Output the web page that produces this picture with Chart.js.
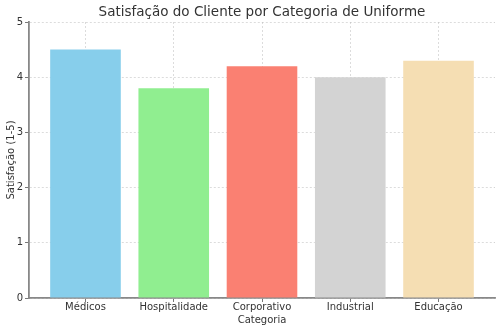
<!DOCTYPE html>
<html><head><meta charset="utf-8">
<script src="https://cdn.jsdelivr.net/npm/chart.js@4/dist/chart.umd.min.js"></script>
<style>html,body{margin:0;padding:0;background:#fff}#w{width:500px;height:331px}</style>
</head><body><div id="w"><canvas id="c" width="500" height="331"></canvas></div>
<script>
const categories = ["Médicos", "Hospitalidade", "Corporativo", "Industrial", "Educação"];
const satisfaction = [4.5, 3.8, 4.2, 4.0, 4.3];
const barColors = ["#87CEEB", "#90EE90", "#FA8072", "#D3D3D3", "#F5DEB3"];
const yTicks = [0, 1, 2, 3, 4, 5];
const titleText = "Satisfação do Cliente por Categoria de Uniforme";

const FONT = "'DejaVu Sans', sans-serif";
const titlePlugin = {
  id: 'mtitle',
  afterDraw(chart) {
    const ctx = chart.ctx, a = chart.chartArea;
    ctx.save();
    ctx.font = "13.5px " + FONT;
    ctx.fillStyle = "#333333";
    ctx.textAlign = "center";
    ctx.textBaseline = "middle";
    ctx.fillText(titleText, (a.left + a.right) / 2, 12);
    ctx.restore();
  }
};

new Chart(document.getElementById('c'), {
  type: 'bar',
  data: {
    datasets: [{
      data: satisfaction.map((v, i) => ({x: i, y: v})),
      backgroundColor: barColors,
      borderWidth: 0,
      barPercentage: 0.8,
      categoryPercentage: 1.0
    }]
  },
  plugins: [titlePlugin],
  options: {
    responsive: false,
    animation: false,
    layout: {padding: {top: 22, right: 5, left: 0, bottom: 0}},
    plugins: {legend: {display: false}, tooltip: {enabled: false}},
    scales: {
      x: {
        type: 'linear',
        min: -0.64, max: 4.64,
        offset: false,
        z: 1,
        afterBuildTicks: s => { s.ticks = categories.map((c, i) => ({value: i})); },
        afterFit: s => { s.height = 33; },
        ticks: {
          callback: (v) => categories[v],
          font: {family: FONT, size: 10},
          color: "#333333",
          padding: -1,
          maxRotation: 0,
          autoSkip: false
        },
        grid: {offset: false, color: "rgba(175,175,175,0.55)", lineWidth: 0.8, tickLength: 4, tickColor: "#555555", tickWidth: 0.8},
        border: {color: "#888888", width: 1.8, dash: [2, 2]},
        title: {display: true, text: "Categoria", font: {family: FONT, size: 10}, color: "#333333", padding: {top: 0, bottom: 5}}
      },
      y: {
        min: 0, max: 5,
        z: 1,
        afterBuildTicks: s => { s.ticks = yTicks.map(v => ({value: v})); },
        afterFit: s => { s.width = 29; },
        ticks: {font: {family: FONT, size: 10}, color: "#333333", padding: 2},
        grid: {color: "rgba(175,175,175,0.55)", lineWidth: 0.8, tickLength: 4, tickColor: "#555555", tickWidth: 0.8},
        border: {color: "#888888", width: 1.8, dash: [2, 2]},
        title: {display: true, text: "Satisfação (1-5)", font: {family: FONT, size: 10}, color: "#333333", padding: {top: 5, bottom: 0}}
      }
    }
  }
});
</script>
</body></html>
